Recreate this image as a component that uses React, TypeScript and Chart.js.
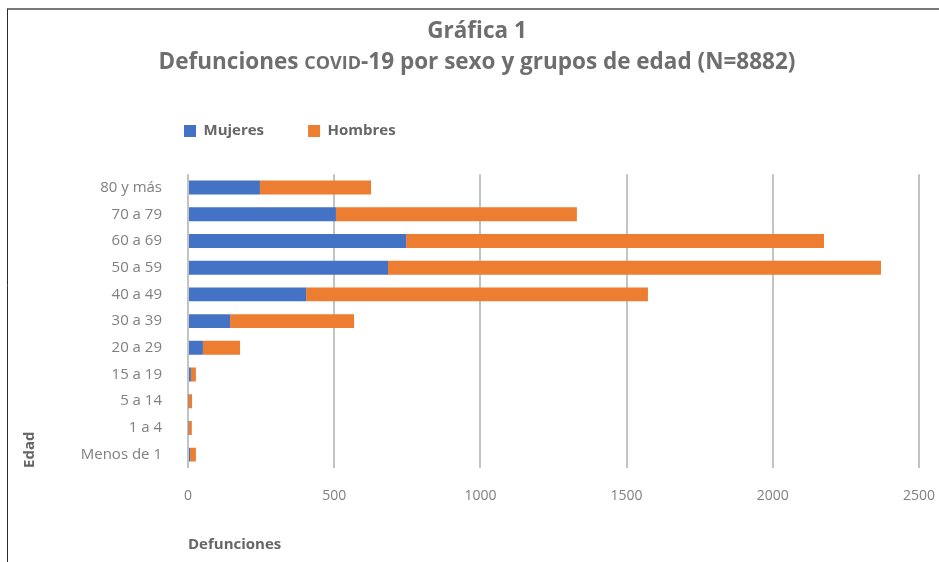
import React, { useEffect, useRef } from 'react';
import { Chart, registerables } from 'chart.js';

Chart.register(...registerables);

// ---- data ----
const ageGroups = ['80 y más', '70 a 79', '60 a 69', '50 a 59', '40 a 49', '30 a 39', '20 a 29', '15 a 19', '5 a 14', '1 a 4', 'Menos de 1'];
const mujeres = [246, 506, 746, 684, 404, 144, 51, 10, 2, 2, 7];
const hombres = [380, 824, 1429, 1686, 1169, 424, 127, 17, 12, 11, 20];
const xTicks = [0, 500, 1000, 1500, 2000, 2500];
const seriesNames = ['Mujeres', 'Hombres'];
const titleLine1 = 'Gráfica 1';
const titleLine2Parts = ['Defunciones ', 'COVID', '-19 por sexo y grupos de edad (N=8882)'];
const xTitle = 'Defunciones';
const yTitle = 'Edad';

// ---- styles ----
const FONT = '"Open Sans", "Noto Sans", sans-serif';
const BLUE = '#4472C4';
const ORANGE = '#ED7D31';
const TITLE_COLOR = '#6e6e6e';
const LABEL_COLOR = '#666666';
const TICK_COLOR = '#808080';
const GRID_COLOR = '#c3c3c3';
const W = 939;
const H = 562;

const framePlugin = {
  id: 'frame',
  beforeDraw(chart: any) {
    const ctx = chart.ctx;
    ctx.save();
    ctx.fillStyle = '#ffffff';
    ctx.fillRect(0, 0, W, H);
    ctx.strokeStyle = '#7a7a7a';
    ctx.lineWidth = 2;
    ctx.beginPath();
    ctx.moveTo(7, 9);
    ctx.lineTo(W, 9);
    ctx.stroke();
    ctx.strokeStyle = '#2a2a2a';
    ctx.lineWidth = 1;
    ctx.beginPath();
    ctx.moveTo(7.5, 9);
    ctx.lineTo(7.5, H);
    ctx.stroke();
    ctx.restore();
  },
};

const titlePlugin = {
  id: 'twoLineTitle',
  afterDraw(chart: any) {
    const ctx = chart.ctx;
    const cx = 477;
    const size = 22.5;
    ctx.save();
    ctx.fillStyle = TITLE_COLOR;
    ctx.textAlign = 'left';
    ctx.textBaseline = 'alphabetic';
    ctx.font = `bold ${size}px ${FONT}`;
    const w1 = ctx.measureText(titleLine1).width;
    ctx.fillText(titleLine1, cx - w1 / 2, 37.5);

    const fonts = [`bold ${size}px ${FONT}`, `bold ${Math.round(size * 0.8)}px ${FONT}`, `bold ${size}px ${FONT}`];
    const widths = titleLine2Parts.map((t, i) => {
      ctx.font = fonts[i];
      return ctx.measureText(t).width;
    });
    const total = widths.reduce((a, b) => a + b, 0);
    let x = cx - total / 2;
    titleLine2Parts.forEach((t, i) => {
      ctx.font = fonts[i];
      ctx.fillText(t, x, 68.5);
      x += widths[i];
    });
    ctx.restore();
  },
};

const LEGEND_PAD = 44;
const legendPlacer = {
  id: 'legendPlacer',
  afterLayout(chart: any) {
    const lg = chart.legend;
    if (!lg) return;
    lg.left = 184 - LEGEND_PAD;
    lg.right = W;
    lg.top = 123.5 - LEGEND_PAD;
  },
};

export default function App() {
  const ref = useRef<HTMLCanvasElement | null>(null);

  useEffect(() => {
    if (!ref.current) return;
    const chart = new Chart(ref.current, {
      type: 'bar',
      data: {
        labels: ageGroups,
        datasets: [
          { label: seriesNames[0], data: mujeres, backgroundColor: BLUE, borderWidth: 0 },
          { label: seriesNames[1], data: hombres, backgroundColor: ORANGE, borderWidth: 0 },
        ],
      },
      options: {
        indexAxis: 'y',
        responsive: false,
        animation: false,
        devicePixelRatio: 1,
        datasets: { bar: { categoryPercentage: 0.52, barPercentage: 1 } },
        layout: { padding: { top: 105.2, right: 5, bottom: 0, left: 0 } },
        plugins: {
          title: { display: false },
          tooltip: { enabled: false },
          legend: {
            display: true,
            position: 'top',
            align: 'start',
            labels: {
              boxWidth: 12,
              boxHeight: 12,
              padding: LEGEND_PAD,
              color: LABEL_COLOR,
              font: { family: FONT, size: 15, weight: 'bold' },
            },
          },
        },
        scales: {
          x: {
            type: 'linear',
            stacked: true,
            min: 0,
            max: 2500,
            afterBuildTicks: (s: any) => {
              s.ticks = xTicks.map((v) => ({ value: v }));
            },
            ticks: {
              color: TICK_COLOR,
              font: { family: FONT, size: 14 },
              padding: 19.5,
              maxRotation: 0,
              callback: (v: any) => String(v),
            },
            grid: { color: GRID_COLOR, lineWidth: 2, drawTicks: false },
            border: { display: false },
            title: {
              display: true,
              text: xTitle,
              align: 'start',
              color: LABEL_COLOR,
              font: { family: FONT, size: 15, weight: 'bold' },
              padding: { top: 0, bottom: 8 },
            },
            afterFit: (s: any) => {
              s.height = 94;
              s.paddingRight = 20;
            },
          },
          y: {
            stacked: true,
            ticks: {
              color: TICK_COLOR,
              font: { family: FONT, size: 15 },
              padding: 26,
            },
            grid: { display: false, drawTicks: false },
            border: { display: false },
            title: {
              display: true,
              text: yTitle,
              align: 'start',
              color: LABEL_COLOR,
              font: { family: FONT, size: 15, weight: 'bold' },
              padding: { top: 21, bottom: 0 },
            },
            afterFit: (s: any) => {
              s.width = 188;
            },
          },
        },
      },
      plugins: [framePlugin, legendPlacer, titlePlugin],
    } as any);
    return () => chart.destroy();
  }, []);

  return (
    <div style={{ position: 'absolute', left: 0, top: 0, width: W, height: H, background: '#fff' }}>
      <canvas ref={ref} width={W} height={H} style={{ display: 'block', width: W, height: H }} />
    </div>
  );
}
